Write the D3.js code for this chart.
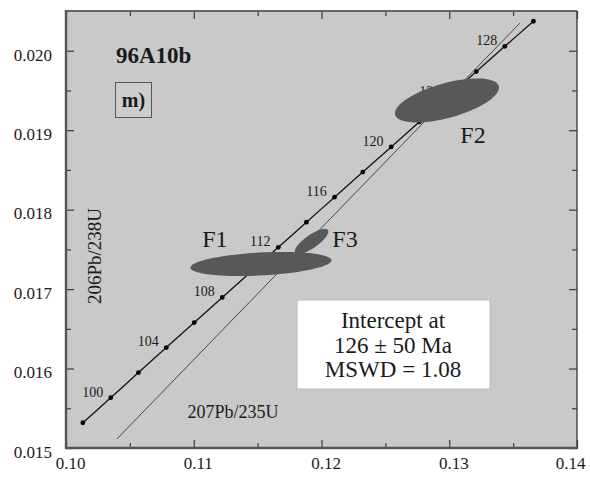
<!DOCTYPE html>
<html>
<head>
<meta charset="utf-8">
<script src="https://cdn.jsdelivr.net/npm/d3@7"></script>
<style>
  html, body { margin: 0; padding: 0; background: #fff; }
  svg { display: block; }
  text { font-family: "Liberation Serif", "Times New Roman", serif; fill: #1a1a1a; }
</style>
</head>
<body>
<svg id="chart" width="590" height="479"></svg>
<script>
// Concordia points (Ma) with their 207Pb/235U and 206Pb/238U ratios
const ages = [98, 100, 102, 104, 106, 108, 110, 112, 114, 116, 118, 120, 122, 124, 126, 128, 130];
const ratio207_235 = [0.10132, 0.10350, 0.10567, 0.10785, 0.11004, 0.11223, 0.11442, 0.11662, 0.11882,
                      0.12102, 0.12323, 0.12545, 0.12767, 0.12989, 0.13212, 0.13435, 0.13659];
const ratio206_238 = [0.015318, 0.015633, 0.015949, 0.016264, 0.016579, 0.016895, 0.017210, 0.017526, 0.017842,
                      0.018157, 0.018473, 0.018789, 0.019106, 0.019422, 0.019738, 0.020055, 0.020371];
const labelledAges = [100, 104, 108, 112, 116, 120, 124, 128];

// Discordia end points
const discordia207 = [0.10398, 0.13555];
const discordia206 = [0.015113, 0.020351];

// Analyses (error ellipses)
const spotNames = ["F3", "F1", "F2"];
const spotX = [0.11922, 0.11526, 0.12982];
const spotSX = [0.001315, 0.005519, 0.004070];
const spotY = [0.017599, 0.017316, 0.019374];
const spotSY = [0.000159, 0.000152, 0.000277];
const spotRho = [0.79, 0.30, 0.58];

// Axis ticks
const xMajor = [0.10, 0.11, 0.12, 0.13, 0.14];
const xMinor = [0.105, 0.115, 0.125, 0.135];
const yMajor = [0.015, 0.016, 0.017, 0.018, 0.019, 0.020];
const yMinor = [0.0155, 0.0165, 0.0175, 0.0185, 0.0195];
const xTickLabels = ["0.10", "0.11", "0.12", "0.13", "0.14"];
const yTickLabels = ["0.015", "0.016", "0.017", "0.018", "0.019", "0.020"];

const svg = d3.select("#chart");
const L = 66, R = 577, T = 11, B = 448;

const x = d3.scaleLinear().domain([0.10, 0.14]).range([L, R]);
const y = d3.scaleLinear().domain([0.015, 0.0205]).range([B, T]);

// plot background
svg.append("rect").attr("x", L).attr("y", T).attr("width", R - L).attr("height", B - T)
  .attr("fill", "#c9c9c9");

// discordia
svg.append("line")
  .attr("x1", x(discordia207[0])).attr("y1", y(discordia206[0]))
  .attr("x2", x(discordia207[1])).attr("y2", y(discordia206[1]))
  .attr("stroke", "#3a3a3a").attr("stroke-width", 0.9);

// concordia curve and age dots
const pts = ages.map((a, i) => ({ age: a, x: ratio207_235[i], y: ratio206_238[i] }));
svg.append("path").datum(pts)
  .attr("d", d3.line().x(d => x(d.x)).y(d => y(d.y)).curve(d3.curveCatmullRom))
  .attr("fill", "none").attr("stroke", "#111").attr("stroke-width", 1.3);
svg.append("g").selectAll("circle").data(pts).join("circle")
  .attr("cx", d => x(d.x)).attr("cy", d => y(d.y)).attr("r", 2.4).attr("fill", "#000");
svg.append("g").selectAll("text").data(pts.filter(d => labelledAges.includes(d.age))).join("text")
  .attr("x", d => x(d.x) - 18).attr("y", d => y(d.y) - 6).attr("dy", "0.35em")
  .attr("text-anchor", "middle").style("font-size", "14px").attr("fill", "#222").text(d => d.age);

// error ellipses
const ellipsePath = (cx, sx, cy, sy, r) => {
  const k = Math.sqrt(1 - r * r);
  const ring = d3.range(0, 361, 4).map(deg => {
    const t = deg * Math.PI / 180;
    return [x(cx + sx * Math.cos(t)), y(cy + sy * (r * Math.cos(t) + k * Math.sin(t)))];
  });
  return d3.line()(ring) + "Z";
};
svg.append("g").selectAll("path").data(spotNames).join("path")
  .attr("d", (n, i) => ellipsePath(spotX[i], spotSX[i], spotY[i], spotSY[i], spotRho[i]))
  .attr("fill", "#585858").attr("stroke", "none");

// spot names
const nameAt = { F1: [0.11166, 0.017530], F3: [0.12184, 0.017530], F2: [0.13186, 0.018839] };
svg.append("g").selectAll("text").data(spotNames).join("text")
  .attr("x", n => x(nameAt[n][0])).attr("y", n => y(nameAt[n][1]))
  .attr("text-anchor", "middle").style("font-size", "24px").text(n => n);

// axes (ticks pointing into the plot)
const tickStyle = g => {
  g.select(".domain").remove();
  g.selectAll(".tick line").attr("stroke", "#3a3a3a").attr("stroke-width", 1.2);
  g.selectAll("text").style("font-size", "17px").style("font-family", "Liberation Serif, serif").attr("fill", "#1a1a1a");
};
const bottomMajor = svg.append("g").attr("transform", `translate(0,${B})`)
  .call(d3.axisBottom(x).tickValues(xMajor).tickSizeInner(-8).tickSizeOuter(0).tickPadding(9)
    .tickFormat((d, i) => xTickLabels[i])).call(tickStyle);
bottomMajor.selectAll("text").attr("dx", (d, i) => i === xMajor.length - 1 ? -7 : 4);
svg.append("g").attr("transform", `translate(0,${B})`)
  .call(d3.axisBottom(x).tickValues(xMinor).tickSize(-5).tickFormat("")).call(tickStyle);
svg.append("g").attr("transform", `translate(0,${T})`)
  .call(d3.axisTop(x).tickValues(xMajor).tickSize(-8).tickFormat("")).call(tickStyle);
svg.append("g").attr("transform", `translate(0,${T})`)
  .call(d3.axisTop(x).tickValues(xMinor).tickSize(-5).tickFormat("")).call(tickStyle);

const leftMajor = svg.append("g").attr("transform", `translate(${L},0)`)
  .call(d3.axisLeft(y).tickValues(yMajor).tickSizeInner(-8).tickSizeOuter(0).tickPadding(14)
    .tickFormat((d, i) => yTickLabels[i])).call(tickStyle);
leftMajor.selectAll("text").attr("dy", "0.55em");
svg.append("g").attr("transform", `translate(${L},0)`)
  .call(d3.axisLeft(y).tickValues(yMinor).tickSize(-5).tickFormat("")).call(tickStyle);
svg.append("g").attr("transform", `translate(${R},0)`)
  .call(d3.axisRight(y).tickValues(yMajor).tickSize(-8).tickFormat("")).call(tickStyle);
svg.append("g").attr("transform", `translate(${R},0)`)
  .call(d3.axisRight(y).tickValues(yMinor).tickSize(-5).tickFormat("")).call(tickStyle);

// frame
svg.append("line").attr("x1", L).attr("x2", R).attr("y1", T).attr("y2", T).attr("stroke", "#666").attr("stroke-width", 2);
svg.append("line").attr("x1", R).attr("x2", R).attr("y1", T).attr("y2", B).attr("stroke", "#333").attr("stroke-width", 1.3);
svg.append("line").attr("x1", L).attr("x2", L).attr("y1", T - 1).attr("y2", B + 1).attr("stroke", "#555").attr("stroke-width", 2.4);
svg.append("line").attr("x1", L - 1).attr("x2", R + 1).attr("y1", B).attr("y2", B).attr("stroke", "#555").attr("stroke-width", 2.4);

// axis titles
svg.append("text").attr("x", 233).attr("y", 418).attr("text-anchor", "middle")
  .style("font-size", "18px").text("207Pb/235U");
svg.append("text").attr("transform", "translate(101,256) rotate(-90)").attr("text-anchor", "middle")
  .style("font-size", "19px").text("206Pb/238U");

// sample name and panel tag
svg.append("text").attr("x", 116).attr("y", 63).style("font-size", "23px").style("font-weight", "bold")
  .text("96A10b");
svg.append("rect").attr("x", 115.5).attr("y", 82.5).attr("width", 36).attr("height", 35)
  .attr("fill", "#cdcdcd").attr("stroke", "#555").attr("stroke-width", 1);
svg.append("text").attr("x", 133.5).attr("y", 107).attr("text-anchor", "middle")
  .style("font-size", "20px").style("font-weight", "bold").text("m)");

// result box
svg.append("rect").attr("x", 297).attr("y", 300).attr("width", 193).attr("height", 89)
  .attr("fill", "#fff").attr("stroke", "#bdbdbd").attr("stroke-width", 1);
const result = ["Intercept at", "126 \u00b1 50 Ma", "MSWD = 1.08"];
svg.append("g").selectAll("text").data(result).join("text")
  .attr("x", 393).attr("y", (d, i) => 328 + i * 24.5).attr("text-anchor", "middle")
  .style("font-size", "23px").text(d => d);
</script>
</body>
</html>
